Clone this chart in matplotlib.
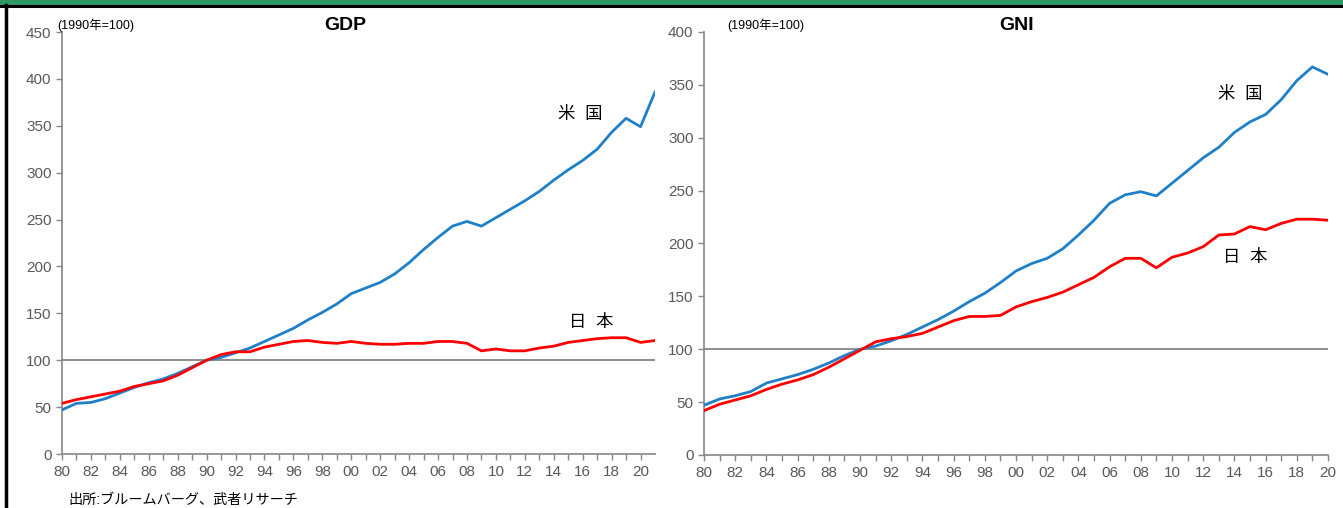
import matplotlib
matplotlib.use("Agg")
import matplotlib.pyplot as plt
from matplotlib.patches import Rectangle
from matplotlib.lines import Line2D

plt.rcParams['font.family'] = ['Liberation Sans', 'Noto Sans CJK JP', 'DejaVu Sans']

# data (1990 = 100)
gdp_years = list(range(1980, 2022))
gdp_us = [47, 54, 55, 59, 65, 71, 76, 80, 86, 93,
          100, 103, 108, 113, 120, 127, 134, 143, 151, 160,
          171, 177, 183, 192, 204, 218, 231, 243, 248, 243,
          252, 261, 270, 280, 292, 303, 313, 325, 343, 358,
          349, 386]
gdp_jp = [54, 58, 61, 64, 67, 72, 75, 78, 84, 92,
          100, 106, 109, 109, 114, 117, 120, 121, 119, 118,
          120, 118, 117, 117, 118, 118, 120, 120, 118, 110,
          112, 110, 110, 113, 115, 119, 121, 123, 124, 124,
          119, 121]

gni_years = list(range(1980, 2021))
gni_us = [47, 53, 56, 60, 68, 72, 76, 81, 87, 94,
          100, 103, 108, 114, 121, 128, 136, 145, 153, 163,
          174, 181, 186, 195, 208, 222, 238, 246, 249, 245,
          257, 269, 281, 291, 305, 315, 322, 336, 354, 367,
          360]
gni_jp = [42, 48, 52, 56, 62, 67, 71, 76, 83, 91,
          99, 107, 110, 112, 115, 121, 127, 131, 131, 132,
          140, 145, 149, 154, 161, 168, 178, 186, 186, 177,
          187, 191, 197, 208, 209, 216, 213, 219, 223, 223,
          222]

tick_years = list(range(1980, 2021, 2))
tick_labels = ["%02d" % (y % 100) for y in tick_years]

blue = "#1f80c8"
red = "#ff0000"
grey = "#595959"
spine = "#868686"

W, H = 1343, 508
fig = plt.figure(figsize=(W / 100, H / 100), dpi=100)

# frame bits from the slide
fig.patches.append(Rectangle((0, 1 - 5 / H), 1, 5 / H, transform=fig.transFigure,
                             facecolor="#2e9764", edgecolor="none"))
fig.lines.append(Line2D([0, 1], [1 - 6 / H, 1 - 6 / H], transform=fig.transFigure,
                        color="black", lw=2.2))
fig.lines.append(Line2D([6 / W, 6 / W], [0, 1 - 5 / H], transform=fig.transFigure,
                        color="black", lw=2.5))


def style(ax, xmax, ymax, ystep):
    for s in ["top", "right"]:
        ax.spines[s].set_visible(False)
    for s in ["left", "bottom"]:
        ax.spines[s].set_color(spine)
        ax.spines[s].set_linewidth(1.2)
    ax.set_xlim(1980, xmax)
    ax.set_ylim(0, ymax)
    ax.set_yticks(range(0, ymax + 1, ystep))
    ax.set_xticks(tick_years)
    ax.set_xticklabels(tick_labels)
    ax.set_xticks(range(1980, 2021), minor=True)
    ax.tick_params(axis="both", colors=spine, labelcolor=grey, labelsize=11, length=4, width=1)
    ax.tick_params(axis="x", which="minor", colors=spine, length=4, width=1)
    ax.tick_params(axis="x", pad=4)
    ax.axhline(100, color="#6f6f6f", lw=1.1, zorder=1)


# GDP
ax1 = fig.add_axes([62 / W, 54 / H, 593 / W, 422 / H])
ax1.plot(gdp_years, gdp_us, color=blue, lw=2, zorder=3)
ax1.plot(gdp_years, gdp_jp, color=red, lw=2, zorder=3)
style(ax1, 2021, 450, 50)
ax1.text(2015.8, 363, "米  国", fontsize=12.5, ha="center", va="center")
ax1.text(2016.6, 141, "日  本", fontsize=12.5, ha="center", va="center")
fig.text(345 / W, 1 - 25 / H, "GDP", fontsize=14, fontweight="bold", ha="center", va="center")
fig.text(57 / W, 1 - 25 / H, "(1990年=100)", fontsize=9, ha="left", va="center")

# GNI
ax2 = fig.add_axes([704 / W, 53 / H, 624 / W, 423 / H])
ax2.plot(gni_years, gni_us, color=blue, lw=2, zorder=3)
ax2.plot(gni_years, gni_jp, color=red, lw=2, zorder=3)
style(ax2, 2020, 400, 50)
ax2.text(2014.4, 341, "米  国", fontsize=12.5, ha="center", va="center")
ax2.text(2014.7, 187, "日  本", fontsize=12.5, ha="center", va="center")
fig.text(1017 / W, 1 - 25 / H, "GNI", fontsize=14, fontweight="bold", ha="center", va="center")
fig.text(727 / W, 1 - 25 / H, "(1990年=100)", fontsize=9, ha="left", va="center")

fig.text(68 / W, 1 - 500 / H, "出所:ブルームバーグ、武者リサーチ", fontsize=10.2, va="center", ha="left")

fig.savefig("out.png", dpi=100)
